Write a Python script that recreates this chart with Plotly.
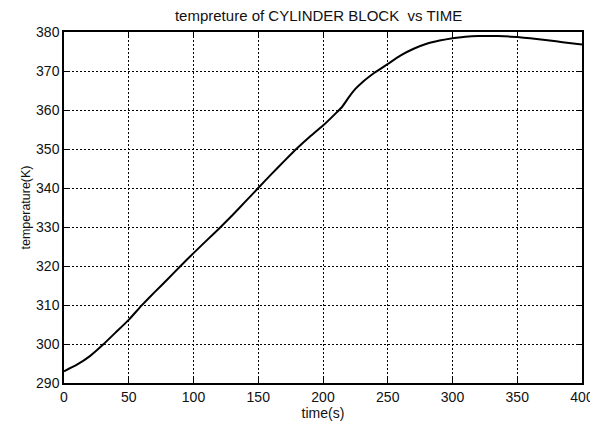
import plotly.graph_objects as go

# Cylinder block temperature over time
time_s = [0, 10, 20, 30, 40, 50, 60, 70, 80, 90, 100, 110, 120, 130, 140, 150,
          160, 170, 180, 190, 200, 210, 215, 220, 225, 230, 240, 250, 260, 270,
          280, 290, 300, 310, 320, 330, 340, 350, 360, 370, 380, 390, 400]
temp_k = [293.0, 294.7, 296.9, 299.8, 303.0, 306.2, 309.9, 313.3, 316.6, 320.0,
          323.3, 326.5, 329.7, 333.0, 336.5, 340.0, 343.5, 346.9, 350.2, 353.2,
          356.0, 359.2, 360.9, 363.3, 365.4, 367.0, 369.6, 371.8, 374.0, 375.7,
          377.0, 377.8, 378.4, 378.8, 379.0, 379.0, 378.9, 378.7, 378.4, 378.0,
          377.6, 377.2, 376.8]

x_ticks = [0, 50, 100, 150, 200, 250, 300, 350, 400]
y_ticks = [290, 300, 310, 320, 330, 340, 350, 360, 370, 380]

font_family = "Liberation Sans, Arial, sans-serif"
text_color = "#111111"

fig = go.Figure()
fig.add_trace(go.Scatter(
    x=time_s, y=temp_k, mode="lines",
    line=dict(color="black", width=2, shape="spline", smoothing=0.3),
    showlegend=False, cliponaxis=False,
))

axis_common = dict(
    showline=True, linecolor="black", linewidth=1.5, mirror="ticks",
    ticks="inside", ticklen=5, tickwidth=1.2, tickcolor="black",
    showgrid=True, gridcolor="black", gridwidth=1.3, griddash="2px,2px",
    zeroline=False, ticklabeloverflow="allow", automargin=False,
    tickfont=dict(family=font_family, size=14, color=text_color),
)

fig.update_xaxes(
    range=[-0.001, 400.001], tickvals=x_ticks, ticktext=[str(v) for v in x_ticks],
    title=dict(text="time(s)", font=dict(family=font_family, size=14, color=text_color),
               standoff=1),
    **axis_common,
)
fig.update_yaxes(
    range=[290, 380.0001], tickvals=y_ticks, ticktext=[str(v) for v in y_ticks],
    title=dict(text="temperature(K)", font=dict(family=font_family, size=12.5, color=text_color),
               standoff=3),
    **axis_common,
)

fig.update_layout(
    width=590, height=423,
    margin=dict(l=64, r=8, t=32, b=40),
    paper_bgcolor="white", plot_bgcolor="white",
    title=dict(text="tempreture of CYLINDER BLOCK  vs TIME",
               font=dict(family=font_family, size=15, color=text_color),
               x=0.54, xanchor="center", y=1 - 16 / 423, yanchor="middle"),
)

fig.write_html("out.html")
